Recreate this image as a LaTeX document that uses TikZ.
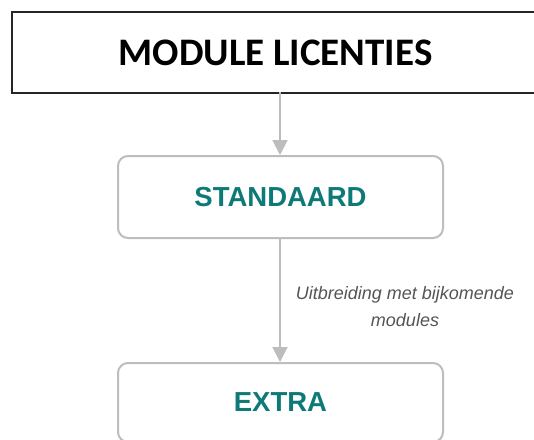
\documentclass[tikz,border=0pt]{standalone}
\usepackage{fontspec}
\setmainfont{Liberation Sans}
\newfontfamily\titlefont{Carlito}
\usetikzlibrary{arrows.meta}
\definecolor{teal1}{RGB}{14,122,120}
\definecolor{edgegray}{RGB}{189,189,189}
\definecolor{labelgray}{RGB}{85,85,85}
\tikzset{
  titlebox/.style={draw=black!85, line width=2pt, fill=white, anchor=north west, inner sep=0pt,
    minimum width=535pt, minimum height=81pt, font=\titlefont\bfseries\fontsize{39}{45}\selectfont},
  levelbox/.style={draw=edgegray, line width=2pt, rounded corners=10pt, fill=white, anchor=north west,
    inner sep=0pt, minimum width=325pt, font=\bfseries\fontsize{27.5}{32}\selectfont, text=teal1},
  conn/.style={draw=edgegray, line width=2pt, -{Triangle[length=15pt,width=15pt]}},
  edgelabel/.style={font=\itshape\fontsize{18}{27}\selectfont, text=labelgray, align=center}
}
\begin{document}
\begin{tikzpicture}[x=1pt,y=-1pt]
\useasboundingbox (0,0) rectangle (534,439);
\clip (0,0) rectangle (534,439);
\fill[white] (0,0) rectangle (534,439);
\node[titlebox] (top) at (11,11) {\hspace*{-8pt}\raisebox{-4pt}{MODULE LICENTIES}};
\node[levelbox, minimum height=82pt] (std) at (117,155) {STANDAARD};
\node[levelbox, minimum height=79pt] (extra) at (117,362) {\raisebox{-2pt}{EXTRA}};
\coordinate (t1) at (280,92);
\coordinate (s1) at (280,155);
\coordinate (s2) at (280,237);
\coordinate (e1) at (280,362);
\draw[conn] (t1) -- (s1);
\draw[conn] (s2) -- (e1);
\node[edgelabel] (lbl) at (405,307) {Uitbreiding met bijkomende\\modules};
\end{tikzpicture}
\end{document}
